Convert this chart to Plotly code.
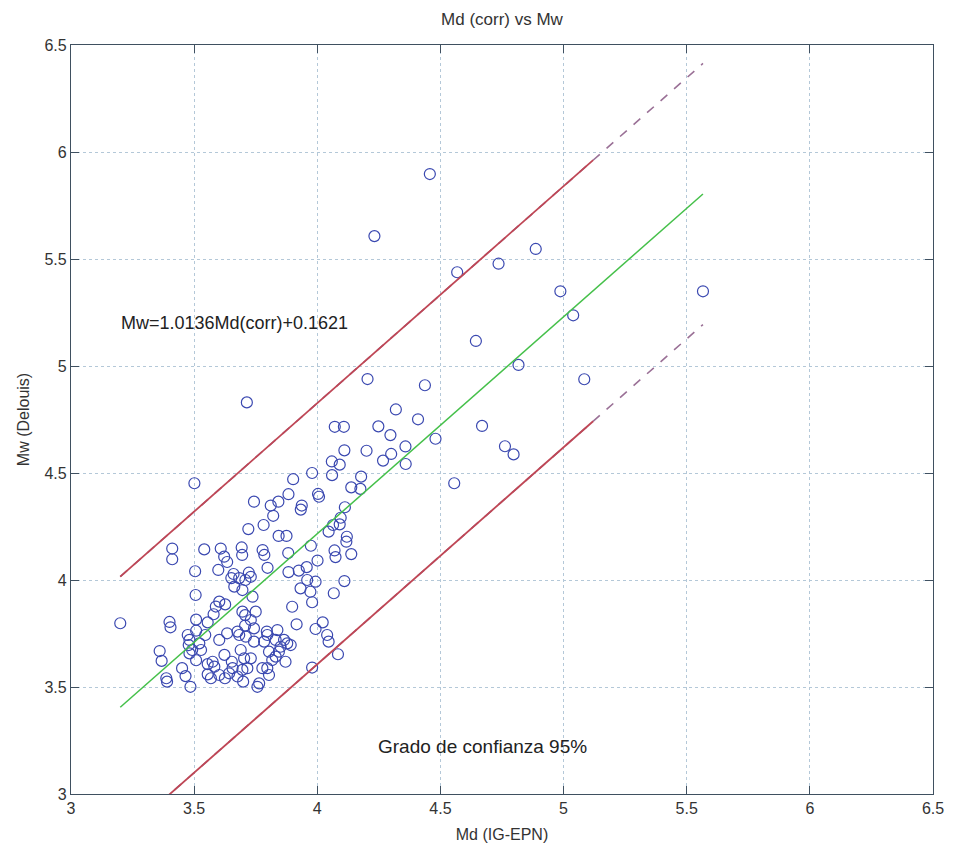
import plotly.graph_objects as go

# --- data ---
md = [4.457, 4.232, 4.887, 4.736, 4.568, 4.987, 5.566, 5.039, 4.644, 4.817,
      5.084, 4.204, 4.437, 3.714, 4.319, 4.409, 4.248, 4.669, 4.297, 4.48,
      4.358, 4.30, 4.267, 4.359, 4.762, 4.797, 4.556, 4.071, 4.108, 4.11,
      4.20, 4.059, 4.091, 4.06, 3.979, 3.902, 4.178, 4.138, 4.175, 3.883,
      3.842, 4.003, 4.007, 3.743, 3.811, 3.937, 3.933, 3.821, 4.112, 4.095,
      3.72, 3.782, 3.843, 3.875, 4.064, 4.091, 4.046, 4.12, 3.501, 3.974,
      4.118, 3.541, 3.608, 3.693, 3.778, 3.622, 3.695, 3.785, 3.634, 3.882,
      4.07, 4.074, 4.138, 3.598, 3.66, 3.722, 3.798, 3.883, 3.957, 4.001,
      3.925, 3.411, 3.411, 3.504, 3.651, 3.683, 3.708, 3.73, 3.663, 3.696,
      3.737, 3.506, 3.2, 3.40, 3.404, 3.508, 3.474, 3.602, 3.626, 3.579,
      3.555, 3.508, 3.545, 3.478, 3.492, 3.528, 3.36, 3.368, 3.508, 3.575,
      3.623, 3.653, 3.703, 3.451, 3.465, 3.387, 3.39, 3.485, 3.555, 3.568,
      3.625, 3.699, 3.696, 3.656, 3.707, 3.707, 3.683, 3.634, 3.602, 3.959,
      3.993, 3.932, 3.972, 4.11, 4.067, 3.979, 3.898, 3.75, 3.916, 3.993,
      4.022, 4.04, 4.046, 4.084, 3.979, 3.838, 3.795, 3.878, 3.743, 3.831,
      3.784, 3.743, 3.844, 3.817, 3.871, 3.797, 3.73, 3.716, 3.804, 3.757,
      3.588, 3.696, 3.73, 3.676, 3.71, 3.797, 3.865, 3.892, 3.804, 3.831,
      3.851, 3.689, 3.777, 3.582, 3.602, 3.555, 3.642, 3.676, 3.764, 3.481,
      3.521, 3.481]
mw = [5.897, 5.607, 5.547, 5.478, 5.438, 5.349, 5.349, 5.237, 5.117, 5.005,
      4.938, 4.939, 4.910, 4.830, 4.797, 4.751, 4.718, 4.720, 4.677, 4.660,
      4.624, 4.589, 4.558, 4.542, 4.625, 4.587, 4.452, 4.716, 4.716, 4.606,
      4.604, 4.554, 4.539, 4.49, 4.5, 4.471, 4.483, 4.433, 4.426, 4.401,
      4.366, 4.402, 4.389, 4.366, 4.348, 4.348, 4.329, 4.30, 4.34, 4.291,
      4.238, 4.257, 4.206, 4.206, 4.257, 4.26, 4.226, 4.202, 4.452, 4.16,
      4.179, 4.143, 4.147, 4.152, 4.14, 4.109, 4.117, 4.117, 4.084, 4.126,
      4.138, 4.107, 4.121, 4.047, 4.028, 4.034, 4.057, 4.037, 4.06, 4.091,
      4.044, 4.147, 4.097, 4.041, 4.009, 4.009, 4.0, 4.015, 3.969, 3.953,
      3.922, 3.93, 3.798, 3.804, 3.779, 3.815, 3.743, 3.899, 3.886, 3.84,
      3.802, 3.763, 3.743, 3.696, 3.673, 3.673, 3.668, 3.622, 3.625, 3.618,
      3.65, 3.618, 3.634, 3.588, 3.551, 3.541, 3.525, 3.501, 3.559, 3.541,
      3.541, 3.525, 3.58, 3.588, 3.836, 3.787, 3.743, 3.751, 3.72, 4.0,
      3.992, 3.961, 3.945, 3.995, 3.938, 3.896, 3.875, 3.852, 3.793, 3.771,
      3.802, 3.743, 3.712, 3.653, 3.591, 3.766, 3.759, 3.704, 3.774, 3.72,
      3.712, 3.712, 3.665, 3.626, 3.618, 3.588, 3.634, 3.588, 3.556, 3.501,
      3.876, 3.852, 3.813, 3.759, 3.735, 3.743, 3.72, 3.696, 3.665, 3.642,
      3.688, 3.673, 3.588, 3.595, 3.556, 3.607, 3.564, 3.549, 3.517, 3.657,
      3.704, 3.72]

slope = 1.0136
intercept = 0.1621
band = 0.61          # half-width of the 95% band
solid_end = 5.12     # where the band lines switch to dashed

x_ticks = [3, 3.5, 4, 4.5, 5, 5.5, 6, 6.5]
y_ticks = [3, 3.5, 4, 4.5, 5, 5.5, 6, 6.5]

# --- derived lines ---
x0, x1 = min(md), max(md)
fit_x = [x0, x1]
fit_y = [slope * v + intercept for v in fit_x]
up_y = [slope * v + intercept + band for v in fit_x]
lo_y = [slope * v + intercept - band for v in fit_x]
solid_x = [x0, solid_end]
up_solid = [slope * v + intercept + band for v in solid_x]
lo_solid = [slope * v + intercept - band for v in solid_x]

fig = go.Figure()
fig.add_trace(go.Scatter(x=md, y=mw, mode="markers",
                         marker=dict(symbol="circle-open", size=11, color="#3a48b0",
                                     line=dict(width=1.2, color="#3a48b0")),
                         showlegend=False))
for yy in (up_y, lo_y):
    fig.add_trace(go.Scatter(x=fit_x, y=yy, mode="lines",
                             line=dict(color="#9a7096", width=1.6, dash="dash"),
                             showlegend=False))
for yy in (up_solid, lo_solid):
    fig.add_trace(go.Scatter(x=solid_x, y=yy, mode="lines",
                             line=dict(color="#bf4655", width=1.8),
                             showlegend=False))
fig.add_trace(go.Scatter(x=fit_x, y=fit_y, mode="lines",
                         line=dict(color="#45c04a", width=1.5), showlegend=False))

axis_common = dict(showline=True, linecolor="#3f5060", linewidth=1.2, mirror="ticks",
                   ticks="inside", ticklen=8, tickcolor="#3f5060",
                   showgrid=True, gridcolor="#b4c8d8", griddash="dot", gridwidth=1,
                   zeroline=False, tickfont=dict(size=16, color="#333333"))

fig.update_xaxes(range=[3, 6.5], tickvals=x_ticks, ticktext=[f"{t:g}" for t in x_ticks],
                 title=dict(text="Md (IG-EPN)", font=dict(size=16, color="#333333"), standoff=12),
                 **axis_common)
fig.update_yaxes(range=[3, 6.5], tickvals=y_ticks, ticktext=[f"{t:g}" for t in y_ticks],
                 title=dict(text="Mw (Delouis)", font=dict(size=16, color="#333333"), standoff=10),
                 **axis_common)

fig.add_annotation(x=3.665, y=5.2, text="Mw=1.0136Md(corr)+0.1621", showarrow=False,
                   font=dict(size=18, color="#222222"))
fig.add_annotation(x=4.67, y=3.22, text="Grado de confianza 95%", showarrow=False,
                   font=dict(size=19, color="#222222"))

fig.update_layout(
    width=956, height=855,
    margin=dict(l=71, r=17, t=45, b=61),
    paper_bgcolor="white", plot_bgcolor="white",
    font=dict(family="Liberation Sans, Arial, sans-serif", color="#333333"),
    title=dict(text="Md (corr) vs Mw", xref="paper", x=0.5, xanchor="center",
               y=0.978, yanchor="middle", font=dict(size=17, color="#333333")),
)

fig.write_html("out.html")
